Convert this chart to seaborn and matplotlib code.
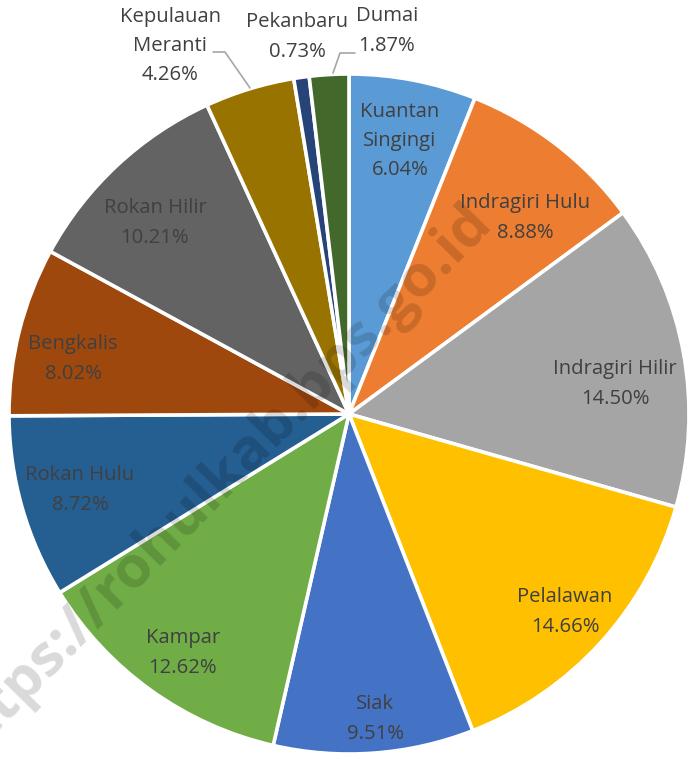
import matplotlib
matplotlib.use("Agg")
import matplotlib.pyplot as plt
import seaborn as sns

# data
regions = ["Kuantan\nSingingi", "Indragiri Hulu", "Indragiri Hilir", "Pelalawan", "Siak",
           "Kampar", "Rokan Hulu", "Bengkalis", "Rokan Hilir", "Kepulauan\nMeranti",
           "Pekanbaru", "Dumai"]
shares = [6.04, 8.88, 14.50, 14.66, 9.51, 12.62, 8.72, 8.02, 10.21, 4.26, 0.73, 1.87]
colors = ["#5B9BD5", "#ED7D31", "#A5A5A5", "#FFC000", "#4472C4", "#70AD47",
          "#255E91", "#9E480E", "#636363", "#997300", "#264478", "#43682B"]

# label centres in image pixels (x, y from top), as placed in the original
label_pos = [(400, 141), (525, 218), (615, 384), (565, 612), (375, 719), (183, 653),
             (80, 490), (73, 359), (155, 223), (170, 46), (297, 37), (387, 31)]

sns.set_theme(style="white")
plt.rcParams["font.family"] = ["Open Sans", "DejaVu Sans"]

W, H = 689, 759
fig = plt.figure(figsize=(W / 100, H / 100), dpi=100)
ax = fig.add_axes([0, 0, 1, 1])

cx, cy, R = 349, H - 414, 340
wedges, _ = ax.pie(shares, colors=sns.color_palette(colors), startangle=90,
                   counterclock=False, center=(cx, cy), radius=R,
                   wedgeprops=dict(edgecolor="white", linewidth=2.6))
ax.set_xlim(0, W)
ax.set_ylim(0, H)
ax.set_aspect("equal")
ax.axis("off")

txt_col = "#404040"
for i, w in enumerate(wedges):
    x, y = label_pos[i]
    ax.text(x, H - y, f"{regions[i]}\n{shares[i]:.2f}%", ha="center", va="center",
            fontsize=14.6, color=txt_col, linespacing=1.62, zorder=5)

# leader lines
ax.plot([213, 225, 250], [H - 52, H - 52, H - 88], color="#A6A6A6", lw=1.2, zorder=4)
ax.plot([333, 340, 355], [H - 73, H - 53, H - 53], color="#A6A6A6", lw=1.2, zorder=4)

# watermark
ax.text(216, H - 484, "https://rohulkab.bps.go.id", rotation=45.5, ha="center",
        va="center", fontsize=42, fontweight="bold", color="black", alpha=0.15,
        rotation_mode="anchor", zorder=3)

fig.savefig("out.png", dpi=100)
